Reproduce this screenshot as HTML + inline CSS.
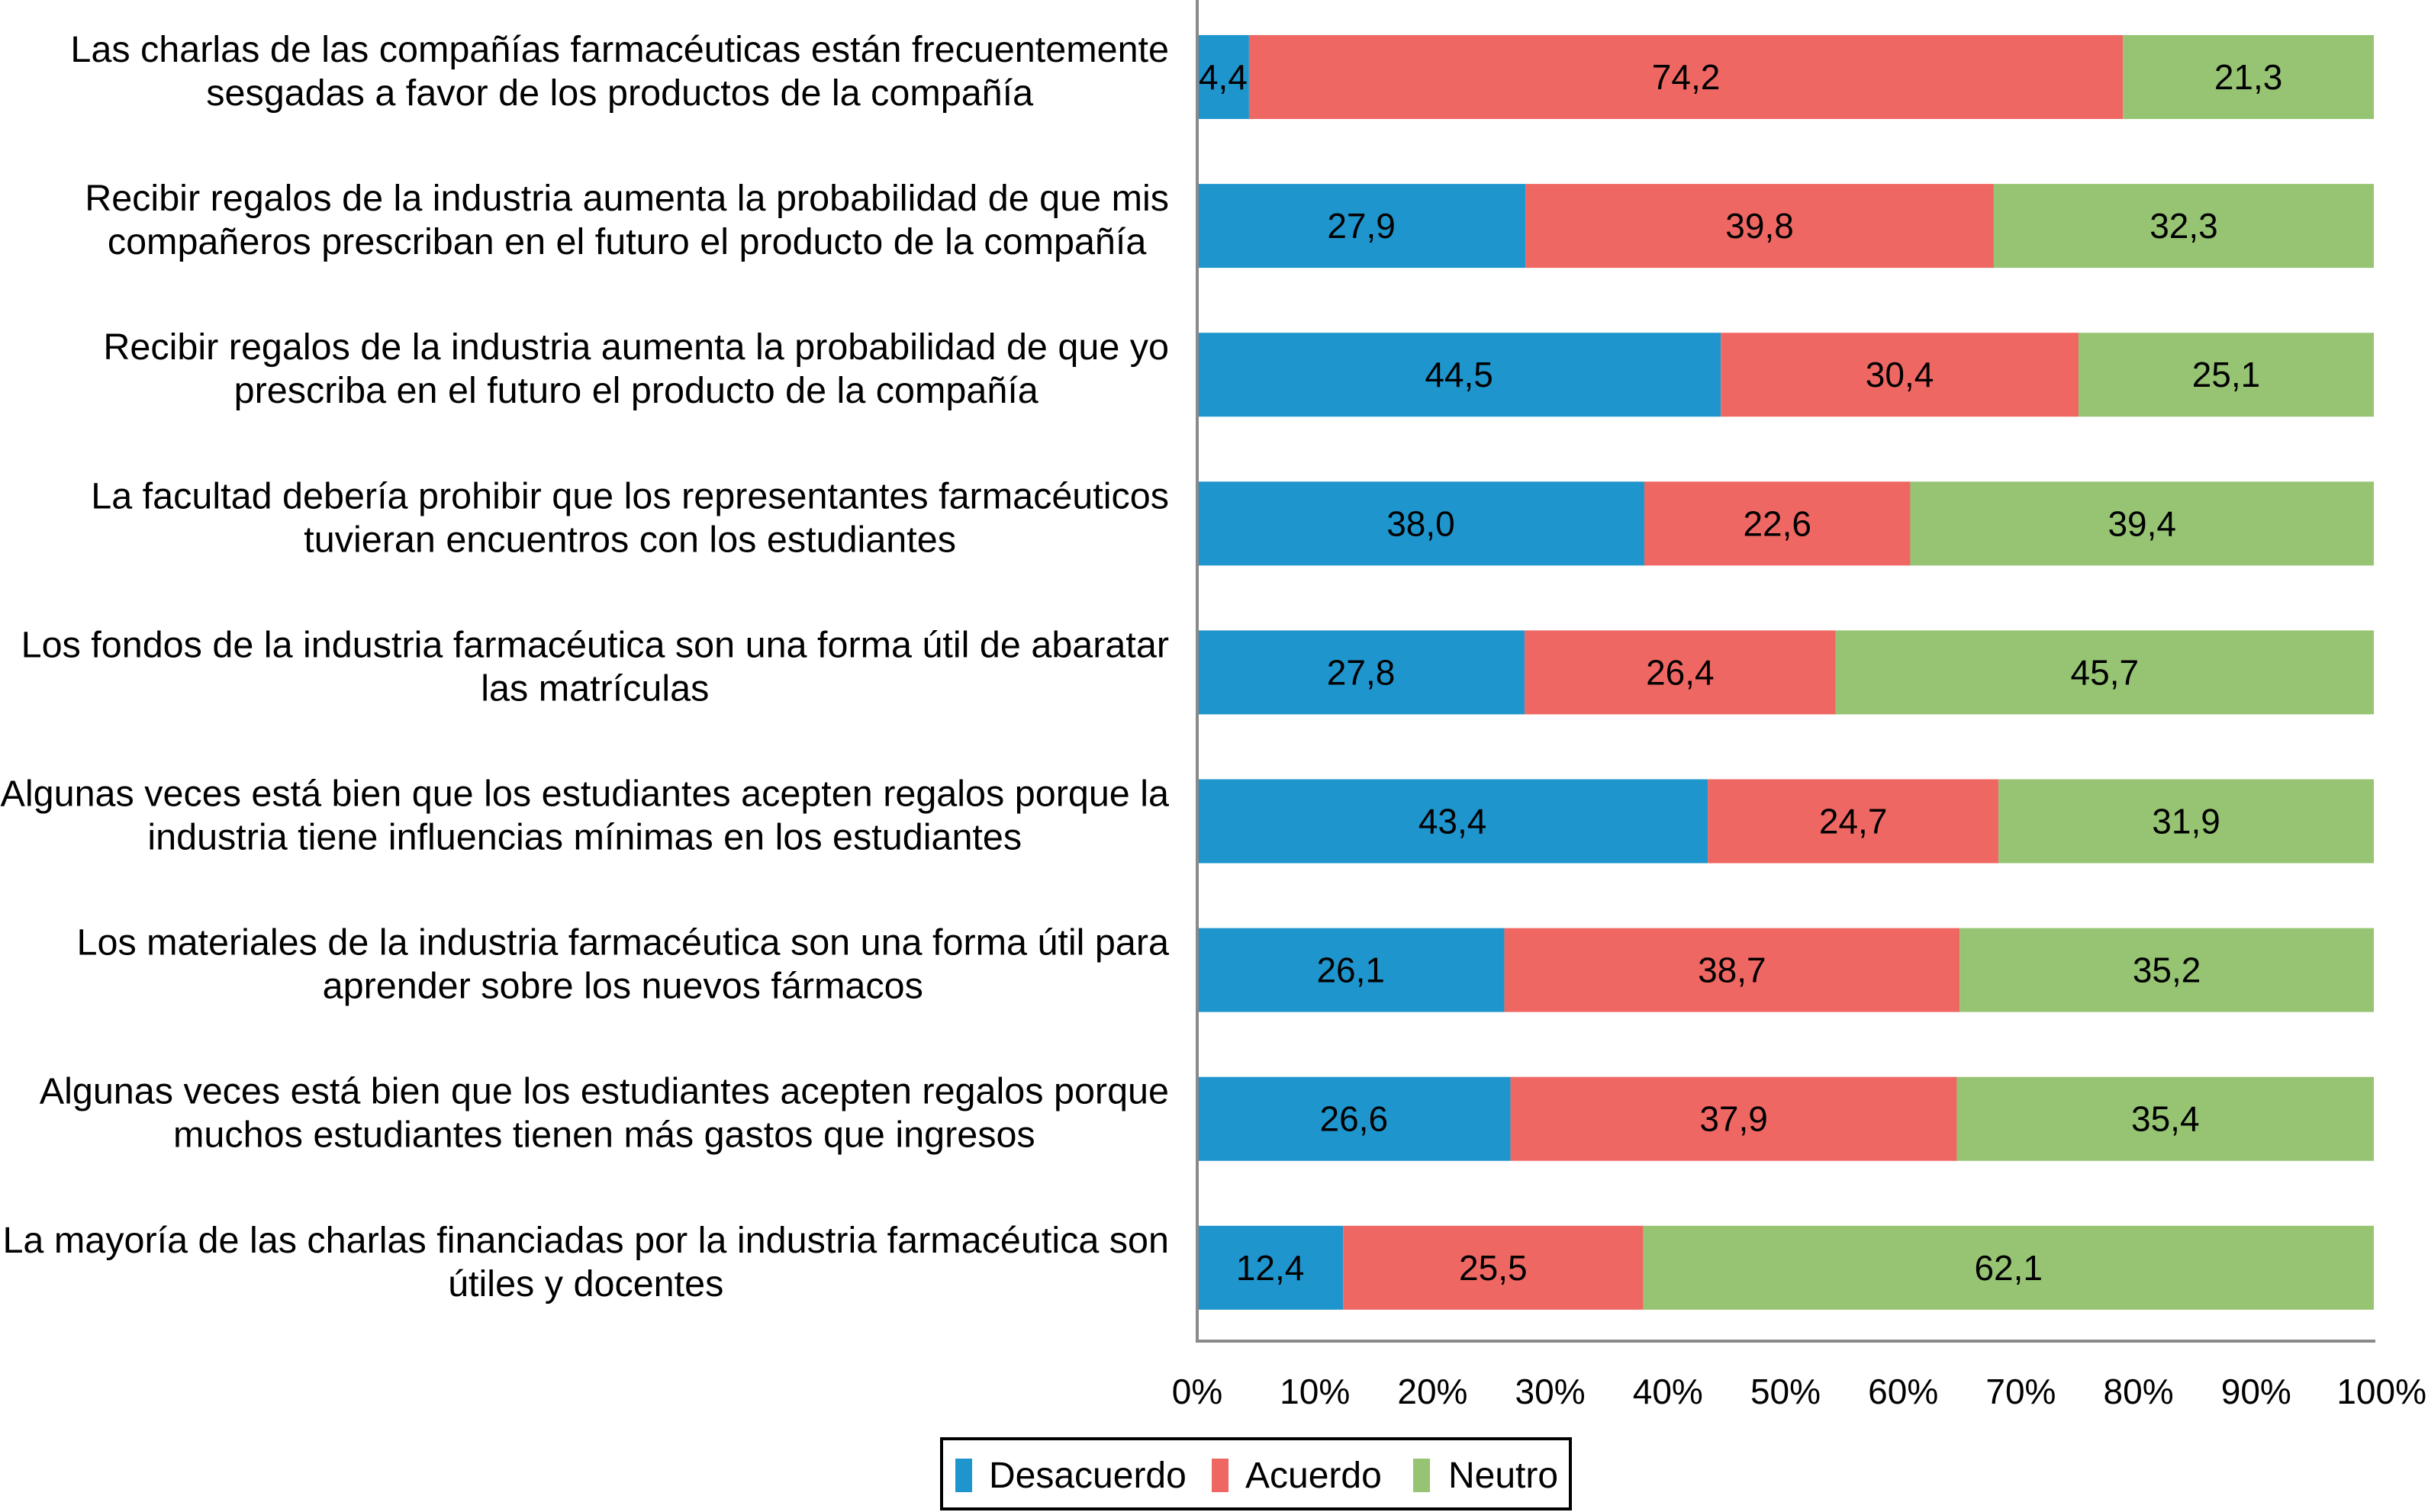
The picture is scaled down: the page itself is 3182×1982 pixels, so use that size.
<!DOCTYPE html>
<html><head><meta charset="utf-8"><style>
html,body{margin:0;padding:0;background:#fff;}
svg{display:block;font-family:"Liberation Sans",Arial,sans-serif;}
</style></head><body>
<svg id="chart" width="3182" height="1982" viewBox="0 0 3182 1982" xmlns="http://www.w3.org/2000/svg">
<rect width="3182" height="1982" fill="#fff"/>
<g id="bars"></g>
<g id="labels"></g>
<g id="ticks"></g>
<line x1="1569" y1="0" x2="1569" y2="1758" stroke="#8a8a8a" stroke-width="4"/>
<line x1="1567" y1="1758" x2="3113" y2="1758" stroke="#8a8a8a" stroke-width="4"/>
<g>
<rect x="1234" y="1886" width="824" height="92" fill="#fff" stroke="#000" stroke-width="4"/>
<rect x="1252" y="1912" width="22" height="44" fill="#1f95cd"/>
<text x="1296" y="1950" font-size="48">Desacuerdo</text>
<rect x="1588" y="1912" width="22" height="44" fill="#ef6762"/>
<text x="1632" y="1950" font-size="48">Acuerdo</text>
<rect x="1852" y="1912" width="22" height="44" fill="#96c473"/>
<text x="1898" y="1950" font-size="48">Neutro</text>
</g>
</svg>
<script>
const categories = [
 ["Las charlas de las compañías farmacéuticas están frecuentemente","sesgadas a favor de los productos de la compañía"],
 ["Recibir regalos de la industria aumenta la probabilidad de que mis","compañeros prescriban en el futuro el producto de la compañía"],
 ["Recibir regalos de la industria aumenta la probabilidad de que yo","prescriba en el futuro el producto de la compañía"],
 ["La facultad debería prohibir que los representantes farmacéuticos","tuvieran encuentros con los estudiantes"],
 ["Los fondos de la industria farmacéutica son una forma útil de abaratar","las matrículas"],
 ["Algunas veces está bien que los estudiantes acepten regalos porque la","industria tiene influencias mínimas en los estudiantes"],
 ["Los materiales de la industria farmacéutica son una forma útil para","aprender sobre los nuevos fármacos"],
 ["Algunas veces está bien que los estudiantes acepten regalos porque","muchos estudiantes tienen más gastos que ingresos"],
 ["La mayoría de las charlas financiadas por la industria farmacéutica son","útiles y docentes"]
];
const desacuerdo = [4.4,27.9,44.5,38.0,27.8,43.4,26.1,26.6,12.4];
const acuerdo = [74.2,39.8,30.4,22.6,26.4,24.7,38.7,37.9,25.5];
const neutro = [21.3,32.3,25.1,39.4,45.7,31.9,35.2,35.4,62.1];
const tickValues = [0,10,20,30,40,50,60,70,80,90,100];

const NS="http://www.w3.org/2000/svg";
const X0=1569, X1=3111, Y0=101, STEP=195.1, BH=110;
const xs = v => X0 + (X1-X0)*v/100;
const ys = i => Y0 + i*STEP;
const series=[{name:"desacuerdo",vals:desacuerdo,color:"#1f95cd"},{name:"acuerdo",vals:acuerdo,color:"#ef6762"},{name:"neutro",vals:neutro,color:"#96c473"}];
const gb=document.getElementById("bars"), gl=document.getElementById("labels"), gt=document.getElementById("ticks");
function fmt(v){return v.toFixed(1).replace(".",",");}
categories.forEach((c,i)=>{
  const cy=ys(i);
  let tot=0; series.forEach(s=>tot+=s.vals[i]);
  let acc=0;
  series.forEach(s=>{
    const v=s.vals[i]/tot*100;
    const r=document.createElementNS(NS,"rect");
    r.setAttribute("x",xs(acc)); r.setAttribute("y",cy-BH/2);
    r.setAttribute("width",xs(acc+v)-xs(acc)); r.setAttribute("height",BH);
    r.setAttribute("fill",s.color);
    
    
    gb.appendChild(r);
    const t=document.createElementNS(NS,"text");
    t.setAttribute("x",xs(acc+v/2)); t.setAttribute("y",cy+16);
    t.setAttribute("text-anchor","middle"); t.setAttribute("font-size","46");
    t.textContent=fmt(s.vals[i]);
    
    
    gb.appendChild(t);
    acc+=v;
  });
  let firstW=0;
  c.forEach((line,k)=>{
    const t=document.createElementNS(NS,"text");
    t.setAttribute("font-size","48.5");
    t.setAttribute("y",cy-20+k*57);
    t.setAttribute("text-anchor",k===0?"end":"middle");
    t.textContent=line;
    
    
    gl.appendChild(t);
    if(k===0){t.setAttribute("x",1532);firstW=t.getComputedTextLength();}
    else{t.setAttribute("x",1532-firstW/2);}
  });
});
tickValues.forEach(v=>{
  const t=document.createElementNS(NS,"text");
  let x=xs(v); let anchor="middle";
  if(v===100){x=3180;anchor="end";}
  t.setAttribute("x",x); t.setAttribute("y",1840);
  t.setAttribute("text-anchor",anchor); t.setAttribute("font-size","46");
  t.textContent=v+"%";
  
  
  gt.appendChild(t);
});
</script>
</body></html>
